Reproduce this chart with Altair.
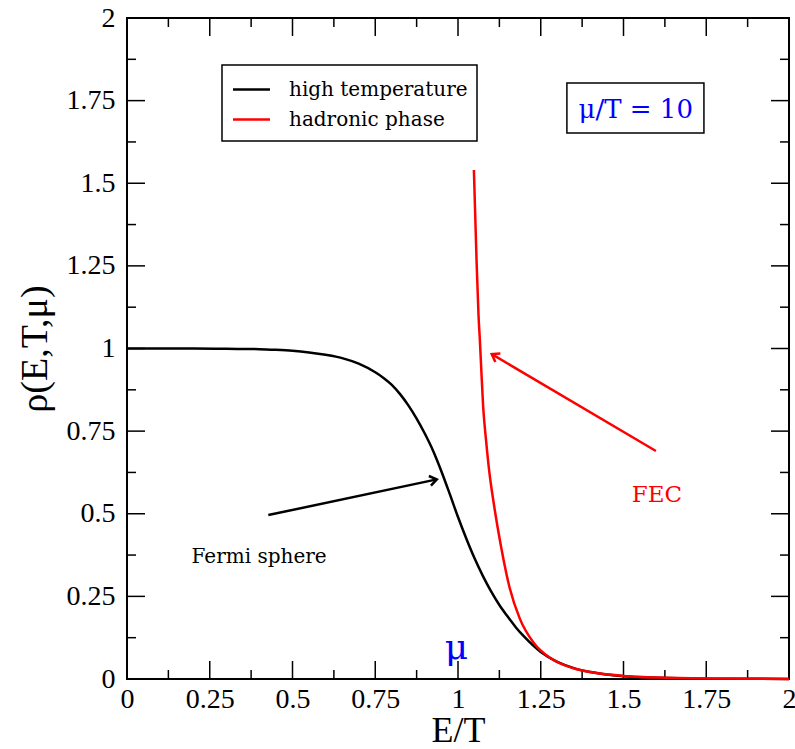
import altair as alt
import pandas as pd

# ---- curve values: occupation density vs E/T ----
high_t_x = [0.0, 0.1, 0.2, 0.3, 0.4, 0.45, 0.5, 0.55, 0.6, 0.65, 0.7, 0.75, 0.775,
            0.8, 0.825, 0.85, 0.875, 0.9, 0.925, 0.95, 0.975, 1.0, 1.025, 1.05,
            1.075, 1.1, 1.125, 1.15, 1.175, 1.2, 1.25, 1.3, 1.35, 1.4, 1.5, 1.6,
            1.75, 2.0]
high_t_y = [1.000, 1.000, 1.000, 0.999, 0.998, 0.996, 0.993, 0.988, 0.981, 0.971,
            0.954, 0.928, 0.911, 0.890, 0.862, 0.828, 0.788, 0.742, 0.690, 0.628,
            0.560, 0.490, 0.425, 0.365, 0.312, 0.265, 0.224, 0.189, 0.156, 0.128,
            0.082, 0.052, 0.033, 0.021, 0.0085, 0.0038, 0.0011, 0.0002]

hadronic_x = [1.048, 1.056, 1.062, 1.066, 1.069, 1.076, 1.085, 1.094, 1.109, 1.130,
              1.156, 1.187, 1.229, 1.281, 1.344, 1.4, 1.5, 1.6, 1.75, 2.0]
hadronic_y = [1.540, 1.268, 1.100, 1.026, 0.965, 0.824, 0.720, 0.632, 0.525, 0.401,
              0.276, 0.182, 0.109, 0.062, 0.034, 0.021, 0.0092, 0.0042, 0.0013,
              0.0002]

series_names = ["high temperature", "hadronic phase"]
series_colors = ["#000000", "#ff0000"]

major_ticks = [0.0, 0.25, 0.5, 0.75, 1.0, 1.25, 1.5, 1.75, 2.0]
minor_ticks = [0.125, 0.375, 0.625, 0.875, 1.125, 1.375, 1.625, 1.875]

AXIS_FONT = "Liberation Serif"
TEXT_FONT = "DejaVu Serif"
W, H = 662, 661
MAJOR_LEN, MINOR_LEN = 18, 9

df_high = pd.DataFrame({"x": high_t_x, "y": high_t_y})
df_had = pd.DataFrame({"x": hadronic_x, "y": hadronic_y})
df_major = pd.DataFrame({"v": major_ticks})
df_minor = pd.DataFrame({"v": minor_ticks})
df_one = pd.DataFrame({"v": [0]})

xscale = alt.Scale(domain=[0, 2], nice=False, zero=False)
yscale = alt.Scale(domain=[0, 2], nice=False, zero=False)

x_axis = alt.Axis(
    title="E/T", values=major_ticks, format=".2~f", grid=False, domain=False,
    ticks=False, tickSize=0, labelFont=AXIS_FONT, labelFontSize=28,
    labelColor="black", labelPadding=6, titleFont=AXIS_FONT, titleFontSize=36,
    titleFontWeight="normal", titleColor="black", titlePadding=0, labelFlush=False,
)
y_axis = alt.Axis(
    title="ρ(E,T,μ)", values=major_ticks, format=".2~f", grid=False, domain=False,
    ticks=False, tickSize=0, labelFont=AXIS_FONT, labelFontSize=28,
    labelColor="black", labelPadding=12, titleFont=AXIS_FONT, titleFontSize=38,
    titleFontWeight="normal", titleColor="black", titlePadding=12, labelFlush=False,
)

line_high = alt.Chart(df_high).mark_line(
    strokeWidth=2.5, interpolate="monotone", color=series_colors[0]
).encode(x=alt.X("x:Q", scale=xscale, axis=x_axis), y=alt.Y("y:Q", scale=yscale, axis=y_axis))
line_had = alt.Chart(df_had).mark_line(
    strokeWidth=2.5, interpolate="monotone", color=series_colors[1]
).encode(x=alt.X("x:Q", scale=xscale), y=alt.Y("y:Q", scale=yscale))


def tick_layers(df, length):
    """Inward-pointing ticks on all four sides of the frame."""
    rule = dict(color="black", strokeWidth=1.5)
    bottom = alt.Chart(df).mark_rule(**rule).encode(
        x=alt.X("v:Q", scale=xscale), y=alt.value(H), y2=alt.value(H - length))
    top = alt.Chart(df).mark_rule(**rule).encode(
        x=alt.X("v:Q", scale=xscale), y=alt.value(0), y2=alt.value(length))
    left = alt.Chart(df).mark_rule(**rule).encode(
        y=alt.Y("v:Q", scale=yscale), x=alt.value(0), x2=alt.value(length))
    right = alt.Chart(df).mark_rule(**rule).encode(
        y=alt.Y("v:Q", scale=yscale), x=alt.value(W), x2=alt.value(W - length))
    return [bottom, top, left, right]


def arrow(x0, y0, x1, y1, angle, col):
    shaft = alt.Chart(df_one).mark_rule(color=col, strokeWidth=2.5).encode(
        x=alt.datum(x0), y=alt.datum(y0), x2=alt.datum(x1), y2=alt.datum(y1))
    head = alt.Chart(df_one).mark_point(
        shape="M -1 -0.7 L 0 0 L -1 0.7", size=200, filled=False,
        strokeWidth=2.5, color=col, angle=angle, opacity=1,
    ).encode(x=alt.datum(x1), y=alt.datum(y1))
    return [shaft, head]


def label(txt, x, y, size, col, align="center"):
    return alt.Chart(df_one).mark_text(
        font=TEXT_FONT, fontSize=size, color=col, align=align, baseline="alphabetic",
    ).encode(x=alt.datum(x), y=alt.datum(y), text=alt.value(txt))


# legend box drawn in the upper-left part of the frame
def legend_layers():
    box = alt.Chart(df_one).mark_rect(
        fill="white", stroke="black", strokeWidth=1.5
    ).encode(x=alt.value(95), x2=alt.value(350), y=alt.value(47), y2=alt.value(123))
    out = [box]
    for i, (name, col) in enumerate(zip(series_names, series_colors)):
        yy = 71.5 + 30 * i
        out.append(alt.Chart(df_one).mark_rule(color=col, strokeWidth=2.5).encode(
            x=alt.value(106), x2=alt.value(143), y=alt.value(yy)))
        out.append(alt.Chart(df_one).mark_text(
            font=TEXT_FONT, fontSize=20, color="black", align="left",
            baseline="middle",
        ).encode(x=alt.value(162), y=alt.value(yy), text=alt.value(name)))
    return out


ratio_box = alt.Chart(df_one).mark_rect(
    fill="white", stroke="black", strokeWidth=1.5
).encode(x=alt.datum(1.329), x2=alt.datum(1.743), y=alt.datum(1.803), y2=alt.datum(1.652))

layers = (
    tick_layers(df_major, MAJOR_LEN)
    + tick_layers(df_minor, MINOR_LEN)
    + [line_high, line_had]
    + arrow(0.427, 0.496, 0.936, 0.604, 348, "black")
    + arrow(1.598, 0.690, 1.102, 0.983, 210.6, "#ff0000")
    + [
        label("Fermi sphere", 0.399, 0.352, 20, "black"),
        label("FEC", 1.601, 0.536, 23, "#ff0000"),
        label("μ", 0.995, 0.06, 36, "#0000ff"),
        ratio_box,
        label("μ/T = 10", 1.537, 1.697, 26, "#0000ff"),
    ]
    + legend_layers()
)

chart = alt.layer(*layers).properties(
    width=W,
    height=H,
    autosize=alt.AutoSizeParams(type="none"),
    padding={"left": 127, "top": 18, "right": 6, "bottom": 70},
).configure(
    background="white"
).configure_view(
    stroke="black", strokeWidth=2
)

chart.save("out.html", embed_options={"renderer": "svg", "actions": False})
